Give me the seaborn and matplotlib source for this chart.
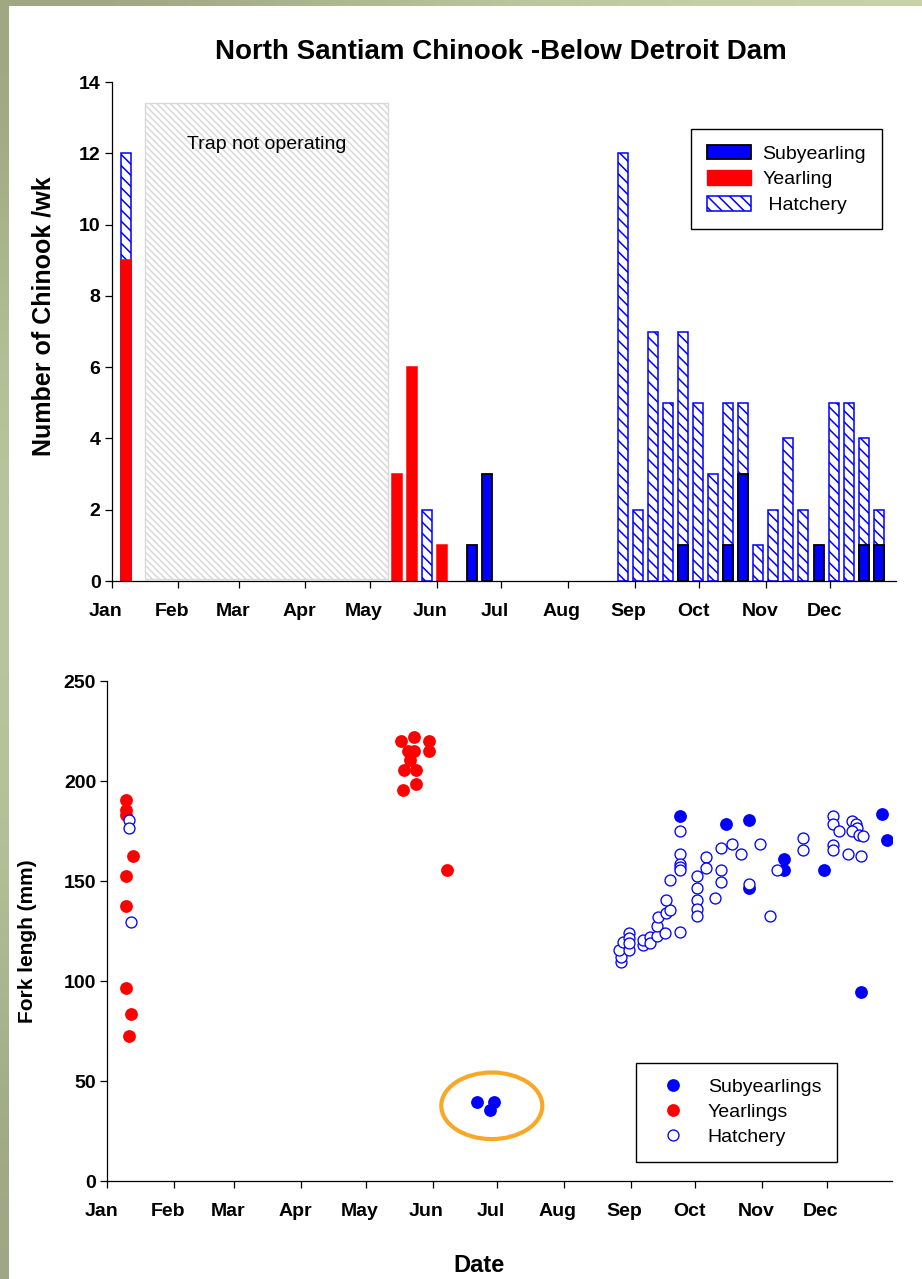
import numpy as np
import pandas as pd
import matplotlib
matplotlib.use("Agg")
import matplotlib.pyplot as plt
import matplotlib.transforms as mtransforms
from matplotlib.patches import Rectangle, Ellipse, Patch
from matplotlib.lines import Line2D
import seaborn as sns

# ---------------- data ----------------
month_labels = ["Jan", "Feb", "Mar", "Apr", "May", "Jun",
                "Jul", "Aug", "Sep", "Oct", "Nov", "Dec"]
month_start_day = [0, 31, 59, 90, 120, 151, 181, 212, 243, 273, 304, 334]

# weekly catch (day of year = middle of trap week)
week_day = [6.5, 132.5, 139.5, 146.5, 153.5, 167.5, 174.5,
            237.5, 244.5, 251.5, 258.5, 265.5, 272.5, 279.5, 286.5, 293.5,
            300.5, 307.5, 314.5, 321.5, 328.5, 335.5, 342.5, 349.5, 356.5]
week_subyearling = [0, 0, 0, 0, 0, 1, 3,
                    0, 0, 0, 0, 1, 0, 0, 1, 3,
                    0, 0, 0, 0, 1, 0, 0, 1, 1]
week_yearling = [9, 3, 6, 0, 1, 0, 0,
                 0, 0, 0, 0, 0, 0, 0, 0, 0,
                 0, 0, 0, 0, 0, 0, 0, 0, 0]
week_hatchery = [3, 0, 0, 2, 0, 0, 0,
                 12, 2, 7, 5, 6, 5, 3, 4, 2,
                 1, 2, 4, 2, 0, 5, 5, 3, 1]

trap_off_start, trap_off_end = 15.6, 128.4

# fork length of individual fish (day of year, mm)
sub_day = [171.5, 179.5, 177.7, 266.1, 287.1, 298.1, 314.2, 314.2, 298.1,
           332.9, 359.8, 361.8, 349.9]
sub_len = [39.3, 39.3, 35.5, 182.5, 178.5, 180.3, 160.8, 155.5, 146.3,
           155.5, 183.3, 170.3, 94.3]

yr_day = [8.7, 8.7, 8.7, 11.8, 8.7, 8.7, 8.7, 10.9, 9.9,
          136.5, 142.5, 149.4, 139.7, 142.5, 149.4, 140.3, 137.7, 143.4,
          143.4, 137.4, 157.6]
yr_len = [190.5, 185.5, 183.0, 162.5, 152.5, 137.5, 96.5, 83.5, 72.5,
          220.2, 222.2, 220.2, 215.2, 215.2, 215.2, 210.5, 205.5, 205.5,
          198.5, 195.5, 155.3]

hat_day = [9.9, 9.9, 10.9,
           238.3, 238.3, 237.7, 239.6, 242.3, 242.3, 242.3, 242.3, 248.8, 248.8,
           251.9, 251.9, 255.0, 255.0, 255.8, 258.9, 259.3, 261.2, 259.3, 261.2,
           266.1, 266.1, 266.1, 266.1, 266.1, 266.1,
           274.0, 274.0, 274.0, 274.0, 274.0, 278.1, 278.1, 282.0, 285.0, 285.0,
           285.0, 290.2, 294.1, 298.1, 303.1, 307.8, 310.8,
           322.8, 322.8, 336.8, 336.8, 336.8, 336.8, 339.8, 343.7, 345.6, 347.4,
           347.9, 345.6, 349.1, 351.0, 349.9]
hat_len = [180.5, 176.3, 129.3,
           109.7, 112.2, 115.5, 119.7, 123.8, 121.5, 115.5, 119.0, 118.0, 120.5,
           122.2, 118.8, 122.5, 127.7, 132.2, 123.8, 134.2, 135.5, 140.5, 150.5,
           124.3, 175.2, 163.5, 158.5, 157.0, 155.5,
           152.5, 146.7, 140.5, 136.2, 132.5, 162.2, 156.3, 141.7, 155.5, 149.5,
           166.3, 168.3, 163.5, 148.5, 168.3, 132.5, 155.5,
           171.3, 165.5, 182.5, 178.5, 168.0, 165.5, 175.2, 163.3, 180.0, 178.5,
           176.3, 175.2, 173.0, 172.5, 162.5]

# ---------------- style ----------------
sns.set_style("ticks")
plt.rcParams["font.family"] = ["Liberation Sans", "DejaVu Sans"]
plt.rcParams["text.color"] = "black"
plt.rcParams["axes.labelcolor"] = "black"
plt.rcParams["axes.edgecolor"] = "black"
plt.rcParams["xtick.color"] = "black"
plt.rcParams["ytick.color"] = "black"
plt.rcParams["legend.labelcolor"] = "black"
plt.rcParams["hatch.linewidth"] = 1.1
plt.rcParams["axes.linewidth"] = 0.9
plt.rcParams["xtick.major.width"] = 0.9
plt.rcParams["ytick.major.width"] = 0.9

BLUE = "#0000FF"
RED = "#FF0000"
HATCH = "\\\\\\"

DPI = 100
fig = plt.figure(figsize=(9.22, 12.79), dpi=DPI, facecolor="white")

# decorative slide border (left and top gradient strips)
ax_l = fig.add_axes([0, 0, 8 / 922, 1])
grad_l = np.array([[0.62, 0.65, 0.51], [0.72, 0.77, 0.60], [0.73, 0.78, 0.62],
                   [0.70, 0.75, 0.59], [0.62, 0.65, 0.52]])
ax_l.imshow(grad_l[:, None, :], aspect="auto", interpolation="bicubic",
            extent=[0, 1, 0, 1])
ax_l.set_axis_off()
ax_t = fig.add_axes([0, 1 - 6 / 1279, 1, 6 / 1279])
grad_t = np.array([[0.62, 0.65, 0.51], [0.72, 0.77, 0.61], [0.78, 0.83, 0.66]])
ax_t.imshow(grad_t[None, :, :], aspect="auto", interpolation="bicubic",
            extent=[0, 1, 0, 1])
ax_t.set_axis_off()

# ---------------- top: weekly catch ----------------
ax1 = fig.add_axes([111.7 / 922, 1 - 581 / 1279, (896 - 111.7) / 922, 499 / 1279])

df = pd.DataFrame({"day": week_day, "sub": week_subyearling,
                   "yr": week_yearling, "hat": week_hatchery})
df["total"] = df["sub"] + df["yr"] + df["hat"]

trap = Rectangle((trap_off_start, 0.07), trap_off_end - trap_off_start, 13.33,
                 facecolor="white", edgecolor="#d9d9d9", hatch="\\\\\\\\\\",
                 linewidth=1.0, zorder=0)
ax1.add_patch(trap)
ax1.text((trap_off_start + trap_off_end) / 2, 12.26, "Trap not operating",
         ha="center", va="center", fontsize=14, zorder=3)

BW = 4.64 / 7
d_hat = df[df["hat"] > 0]
sns.barplot(data=d_hat, x="day", y="total", native_scale=True, orient="x",
            color="white", saturation=1, edgecolor=BLUE, linewidth=1.1,
            hatch=HATCH, width=BW, errorbar=None, ax=ax1)
d_yr = df[df["yr"] > 0]
sns.barplot(data=d_yr, x="day", y="yr", native_scale=True, orient="x",
            color=RED, saturation=1, edgecolor=RED, linewidth=1.1,
            width=BW, errorbar=None, ax=ax1)
d_sub = df[df["sub"] > 0]
sns.barplot(data=d_sub, x="day", y="sub", native_scale=True, orient="x",
            color=BLUE, saturation=1, edgecolor="black", linewidth=1.3,
            width=BW, errorbar=None, ax=ax1)

ax1.set_xlim(0, 364.5)
ax1.set_ylim(0, 14)
ax1.set_yticks(np.arange(0, 15, 2))
ax1.set_xticks(month_start_day)
ax1.set_xticklabels(month_labels)
ax1.set_xlabel("")
ax1.set_ylabel("Number of Chinook /wk", fontsize=18, fontweight="bold")
ax1.yaxis.set_label_coords(-0.0866, 0.53)
ax1.yaxis.label.set_verticalalignment("center")

leg1 = ax1.legend(
    handles=[Patch(facecolor=BLUE, edgecolor="black", linewidth=1.3),
             Patch(facecolor=RED, edgecolor=RED),
             Patch(facecolor="white", edgecolor=BLUE, hatch=HATCH, linewidth=1.1)],
    labels=["Subyearling", "Yearling", " Hatchery"],
    loc="upper left", bbox_to_anchor=(691 / 922, 1 - 129 / 1279),
    bbox_transform=fig.transFigure, borderaxespad=0, fontsize=14,
    frameon=True, fancybox=False, edgecolor="black", framealpha=1,
    handlelength=2.31, handleheight=0.8, handletextpad=0.57,
    labelspacing=0.38, borderpad=0.8)
leg1.get_frame().set_linewidth(1.0)

# ---------------- bottom: fork length ----------------
ax2 = fig.add_axes([107.3 / 922, 1 - 1181 / 1279, (892 - 107.3) / 922, 500 / 1279])

ell = Ellipse((178.5, 37.6), 46.9, 33.3, facecolor="none",
              edgecolor="#F9A825", linewidth=3.0, zorder=1)
ax2.add_patch(ell)

sns.scatterplot(x=sub_day, y=sub_len, color=BLUE, s=85, linewidth=0,
                zorder=3, ax=ax2)
sns.scatterplot(x=yr_day, y=yr_len, color=RED, s=85, linewidth=0,
                zorder=3, ax=ax2)
sns.scatterplot(x=hat_day, y=hat_len, color="white", edgecolor=BLUE,
                s=62, linewidth=0.95, zorder=4, ax=ax2)

ax2.set_xlim(0, 364.3)
ax2.set_ylim(0, 250)
ax2.set_yticks(np.arange(0, 251, 50))
ax2.set_xticks(month_start_day)
ax2.set_xticklabels(month_labels)
ax2.set_xlabel("Date", fontsize=17, fontweight="bold")
ax2.xaxis.set_label_coords(0.4733, -0.168)
ax2.xaxis.label.set_verticalalignment("center")
ax2.set_ylabel("Fork lengh (mm)", fontsize=15, fontweight="bold")
ax2.yaxis.set_label_coords(-0.1023, 0.48)
ax2.yaxis.label.set_verticalalignment("center")

leg2 = ax2.legend(
    handles=[Line2D([], [], ls="none", marker="o", markersize=9.2,
                    markerfacecolor=BLUE, markeredgecolor=BLUE, markeredgewidth=0),
             Line2D([], [], ls="none", marker="o", markersize=9.2,
                    markerfacecolor=RED, markeredgecolor=RED, markeredgewidth=0),
             Line2D([], [], ls="none", marker="o", markersize=7.9,
                    markerfacecolor="white", markeredgecolor=BLUE,
                    markeredgewidth=0.95)],
    labels=["Subyearlings", "Yearlings", "Hatchery"],
    loc="upper left", bbox_to_anchor=(636 / 922, 1 - 1063 / 1279),
    bbox_transform=fig.transFigure, borderaxespad=0, fontsize=14,
    frameon=True, fancybox=False, edgecolor="black", framealpha=1,
    handlelength=2.17, handletextpad=0.72, labelspacing=0.38, borderpad=0.8)
leg2.get_frame().set_linewidth(1.0)

# ---------------- common axis styling ----------------
offset = mtransforms.ScaledTranslation(-6 / DPI, 0, fig.dpi_scale_trans)
for ax in (ax1, ax2):
    sns.despine(ax=ax)
    ax.tick_params(axis="x", direction="out", length=5, pad=10.5,
                   labelsize=14, colors="black")
    ax.tick_params(axis="y", direction="out", length=5, pad=3,
                   labelsize=14, colors="black")
    for lab in ax.get_xticklabels() + ax.get_yticklabels():
        lab.set_fontweight("bold")
        lab.set_color("black")
    for lab in ax.get_xticklabels():
        lab.set_transform(lab.get_transform() + offset)
    for sp in ("left", "bottom"):
        ax.spines[sp].set_color("black")
    ax.set_facecolor("none")
    ax.grid(False)

fig.text(501 / 922, 1 - 52 / 1279, "North Santiam Chinook -Below Detroit Dam",
         ha="center", va="center", fontsize=20, fontweight="bold", color="black")

fig.savefig("out.png", dpi=DPI, facecolor="white")
